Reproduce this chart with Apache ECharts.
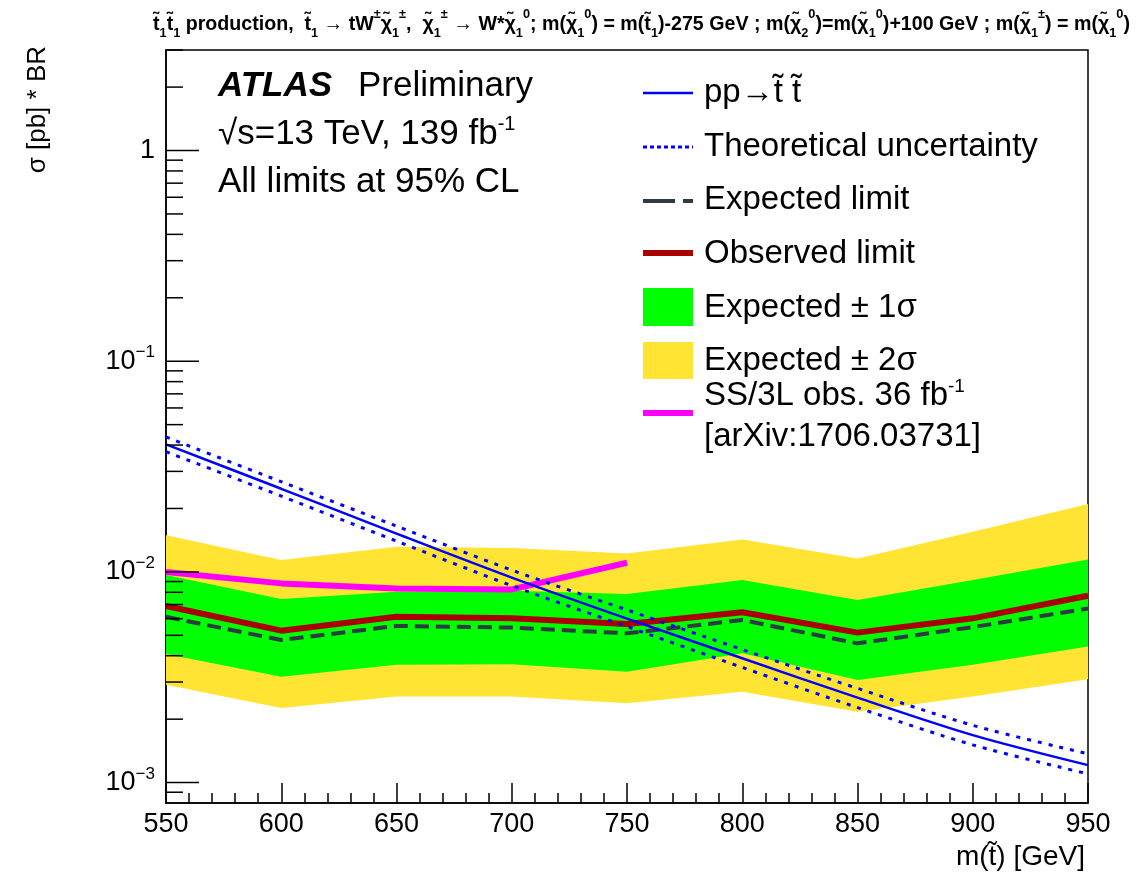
<!DOCTYPE html>
<html>
<head>
<meta charset="utf-8">
<script src="https://cdn.jsdelivr.net/npm/echarts@6/dist/echarts.min.js"></script>
<style>
  html, body { margin: 0; padding: 0; background: #ffffff; }
  #chart { width: 1148px; height: 872px; }
</style>
</head>
<body>
<div id="chart"></div>
<script>
// Stop mass points (GeV)
const masses = [550, 600, 650, 700, 750, 800, 850, 900, 950];

// Signal cross-section x BR (pb) and its theory uncertainty envelope
const theory     = [0.0403, 0.0248, 0.0152, 0.0094, 0.0060, 0.00389, 0.00253, 0.00168, 0.00121];
const theoryUp   = [0.0437, 0.0268, 0.0165, 0.0102, 0.0066, 0.00428, 0.00280, 0.00187, 0.00137];
const theoryDown = [0.0372, 0.0229, 0.0140, 0.0086, 0.0055, 0.00352, 0.00227, 0.00151, 0.00110];

// Limits at 95% CL (pb)
const expected = [0.00612, 0.00475, 0.00554, 0.00544, 0.00511, 0.00591, 0.00458, 0.00547, 0.00670];
const observed = [0.00689, 0.00526, 0.00612, 0.00602, 0.00566, 0.00643, 0.00515, 0.00602, 0.00770];

// Expected +-1 sigma and +-2 sigma bands (pb)
const oneSigmaUp   = [0.00966, 0.00743, 0.00805, 0.00814, 0.00785, 0.00915, 0.00735, 0.00915, 0.01146];
const oneSigmaDown = [0.00408, 0.00318, 0.00362, 0.00364, 0.00336, 0.00411, 0.00307, 0.00362, 0.00442];
const twoSigmaUp   = [0.01494, 0.01138, 0.01315, 0.01300, 0.01224, 0.01426, 0.01159, 0.01550, 0.02100];
const twoSigmaDown = [0.00291, 0.00226, 0.00256, 0.00256, 0.00238, 0.00270, 0.00217, 0.00256, 0.00309];

// Previous SS/3L observed limit, 36 fb-1
const ssMasses = [550, 600, 650, 700, 750];
const ssObserved = [0.0100, 0.00882, 0.00835, 0.00826, 0.01105];

// Log-axis tick values
const yMajorTicks = [0.001, 0.01, 0.1, 1];
const yMinorTicks = [0.0009,
  0.002, 0.003, 0.004, 0.005, 0.006, 0.007, 0.008, 0.009,
  0.02, 0.03, 0.04, 0.05, 0.06, 0.07, 0.08, 0.09,
  0.2, 0.3, 0.4, 0.5, 0.6, 0.7, 0.8, 0.9,
  2, 3];

// Process title, split into normal (n), subscript (b) and superscript (p) pieces
const titleTokens = [
  ['n', 't\u0303'], ['b', '1'], ['n', 't\u0303'], ['b', '1'], ['n', ' production,  t\u0303'], ['b', '1'],
  ['n', ' \u2192 tW'], ['p', '\u00b1'], ['n', '\u03c7\u0303'], ['b', '1'], ['p', '\u00b1'],
  ['n', ',  \u03c7\u0303'], ['b', '1'], ['p', '\u00b1'], ['n', ' \u2192 W*\u03c7\u0303'], ['b', '1'], ['p', '0'],
  ['n', '; m(\u03c7\u0303'], ['b', '1'], ['p', '0'], ['n', ') = m(t\u0303'], ['b', '1'], ['n', ')-275 GeV ; m(\u03c7\u0303'],
  ['b', '2'], ['p', '0'], ['n', ')=m(\u03c7\u0303'], ['b', '1'], ['p', '0'], ['n', ')+100 GeV ; m(\u03c7\u0303'],
  ['b', '1'], ['p', '\u00b1'], ['n', ') = m(\u03c7\u0303'], ['b', '1'], ['p', '0'], ['n', ')']
];

const FONT = 'Liberation Sans, Arial, Helvetica, sans-serif';
const TITLE_MAIN = 20, TITLE_SMALL = 13;
const TITLE_LEFT = 153, TITLE_RIGHT = 1130;

function pairs(xs, ys) { return xs.map((x, i) => [x, ys[i]]); }

// horizontal squeeze so the bold title spans the full top line
function titleScale() {
  const ctx = document.createElement('canvas').getContext('2d');
  let w = 0;
  titleTokens.forEach(([k, t]) => {
    ctx.font = 'bold ' + (k === 'n' ? TITLE_MAIN : TITLE_SMALL) + 'px ' + FONT;
    w += ctx.measureText(t).width;
  });
  return (TITLE_RIGHT - TITLE_LEFT) / w;
}

function bandSeries(name, up, down, color, z) {
  return {
    type: 'custom', name: name, z: z, clip: true, silent: true,
    data: [[masses[0], up[0]]],
    renderItem: function (params, api) {
      const pts = [];
      for (let i = 0; i < masses.length; i++) pts.push(api.coord([masses[i], up[i]]));
      for (let i = masses.length - 1; i >= 0; i--) pts.push(api.coord([masses[i], down[i]]));
      return { type: 'polygon', shape: { points: pts }, style: { fill: color } };
    }
  };
}

function tickSeries(values, len) {
  return {
    type: 'custom', z: 20, clip: false, silent: true,
    data: values.map(v => [masses[0], v]),
    renderItem: function (params, api) {
      const p = api.coord([api.value(0), api.value(1)]);
      return {
        type: 'line',
        shape: { x1: p[0], y1: p[1], x2: p[0] + len, y2: p[1] },
        style: { stroke: '#000', lineWidth: 1.5 }
      };
    }
  };
}

function lineSeries(name, xs, ys, color, width, type, z, smooth) {
  return {
    type: 'line', name: name, z: z, data: pairs(xs, ys),
    symbol: 'none', silent: true, animation: false, smooth: smooth || false,
    lineStyle: { color: color, width: width, type: type, cap: 'butt' }
  };
}

const chart = echarts.init(document.getElementById('chart'), null, { renderer: 'canvas' });

const legendX0 = 643, legendX1 = 693, legendTextX = 704;
const textNormal = { fill: '#000', font: '33px ' + FONT, verticalAlign: 'middle' };
const supStyle33 = { fontSize: 19, fontFamily: FONT, verticalAlign: 'top', fill: '#000' };

const titleText = titleTokens.map(([k, t]) => '{' + k + '|' + t + '}').join('');

const option = {
  animation: false,
  backgroundColor: '#ffffff',
  grid: {
    left: 166, right: 60, top: 50, bottom: 69,
    show: true, borderColor: '#000', borderWidth: 1.5,
    containLabel: false, outerBoundsMode: 'none'
  },
  xAxis: {
    type: 'value', min: 550, max: 950, interval: 50,
    axisLine: { show: true, lineStyle: { color: '#000', width: 1.5 } },
    axisTick: { show: true, inside: true, length: 20, lineStyle: { color: '#000', width: 1.5 } },
    minorTick: { show: true, splitNumber: 5, length: 10, lineStyle: { color: '#000', width: 1.5 } },
    splitLine: { show: false },
    axisLabel: { color: '#000', fontFamily: FONT, fontSize: 27, margin: 8 }
  },
  yAxis: {
    type: 'log', logBase: 10, min: 0.0008, max: 3,
    axisLine: { show: true, lineStyle: { color: '#000', width: 1.5 } },
    axisTick: { show: false },
    splitLine: { show: false },
    axisLabel: {
      color: '#000', fontFamily: FONT, fontSize: 27, margin: 11,
      showMinLabel: true, showMaxLabel: true,
      formatter: function (v) {
        const e = Math.log10(v);
        const r = Math.round(e);
        if (Math.abs(e - r) > 1e-6) return '';
        if (r === 0) return '1';
        return '{b|10}{s|\u2212' + (-r) + '}';
      },
      rich: {
        b: { fontSize: 27, fontFamily: FONT, color: '#000', lineHeight: 34 },
        s: { fontSize: 17, fontFamily: FONT, color: '#000', verticalAlign: 'top' }
      }
    }
  },
  series: [
    bandSeries('Expected \u00b1 2\u03c3', twoSigmaUp, twoSigmaDown, '#ffe433', 1),
    bandSeries('Expected \u00b1 1\u03c3', oneSigmaUp, oneSigmaDown, '#00ff00', 2),
    lineSeries('Expected limit', masses, expected, '#2e3b42', 4, [14, 7], 3),
    lineSeries('Observed limit', masses, observed, '#aa0000', 6, 'solid', 4),
    lineSeries('SS/3L obs. 36 fb-1', ssMasses, ssObserved, '#ff00ff', 6, 'solid', 5),
    lineSeries('Theoretical uncertainty up', masses, theoryUp, '#0000ff', 3, [4, 7], 6, 0.3),
    lineSeries('Theoretical uncertainty down', masses, theoryDown, '#0000ff', 3, [4, 7], 6, 0.3),
    lineSeries('pp\u2192t\u0303t\u0303', masses, theory, '#0000ff', 2.5, 'solid', 7, 0.3),
    tickSeries(yMajorTicks, 33),
    tickSeries(yMinorTicks, 17)
  ],
  graphic: [
    // process title
    {
      type: 'text', x: TITLE_LEFT, y: 24, scaleX: titleScale(), scaleY: 1,
      style: {
        text: titleText,
        verticalAlign: 'middle',
        rich: {
          n: { font: 'bold ' + TITLE_MAIN + 'px ' + FONT, fontSize: TITLE_MAIN, fontWeight: 'bold', fontFamily: FONT, fill: '#000', lineHeight: 32 },
          b: { font: 'bold ' + TITLE_SMALL + 'px ' + FONT, fontSize: TITLE_SMALL, fontWeight: 'bold', fontFamily: FONT, fill: '#000', verticalAlign: 'bottom' },
          p: { font: 'bold ' + TITLE_SMALL + 'px ' + FONT, fontSize: TITLE_SMALL, fontWeight: 'bold', fontFamily: FONT, fill: '#000', verticalAlign: 'top' }
        }
      }
    },
    // axis titles
    {
      type: 'text', x: 38, y: 46, rotation: Math.PI / 2,
      style: { text: '\u03c3 [pb] * BR', font: '26px ' + FONT, fill: '#000', align: 'right', verticalAlign: 'middle' }
    },
    {
      type: 'text', x: 1085, y: 857,
      style: { text: 'm(t\u0303) [GeV]', font: '28px ' + FONT, fill: '#000', align: 'right', verticalAlign: 'middle' }
    },
    // experiment label
    {
      type: 'text', x: 218, y: 86,
      style: { text: 'ATLAS', font: 'italic bold 35px ' + FONT, fill: '#000', verticalAlign: 'middle' }
    },
    {
      type: 'text', x: 358, y: 86,
      style: { text: 'Preliminary', font: '35px ' + FONT, fill: '#000', verticalAlign: 'middle' }
    },
    {
      type: 'text', x: 218, y: 134,
      style: {
        text: '{n|\u221as=13 TeV, 139 fb}{p|-1}', verticalAlign: 'middle',
        rich: {
          n: { fontSize: 35, fontFamily: FONT, fill: '#000', lineHeight: 40 },
          p: { fontSize: 20, fontFamily: FONT, fill: '#000', verticalAlign: 'top' }
        }
      }
    },
    {
      type: 'text', x: 218, y: 182,
      style: { text: 'All limits at 95% CL', font: '35px ' + FONT, fill: '#000', verticalAlign: 'middle' }
    },
    // legend
    { type: 'line', shape: { x1: legendX0, y1: 93, x2: legendX1, y2: 93 }, style: { stroke: '#0000ff', lineWidth: 2.5 } },
    { type: 'text', x: legendTextX, y: 93, style: Object.assign({ text: 'pp\u2192t\u0303 t\u0303' }, textNormal) },
    { type: 'line', shape: { x1: legendX0, y1: 147, x2: legendX1, y2: 147 }, style: { stroke: '#0000ff', lineWidth: 3, lineDash: [4, 3] } },
    { type: 'text', x: legendTextX, y: 147, style: Object.assign({ text: 'Theoretical uncertainty' }, textNormal) },
    { type: 'line', shape: { x1: legendX0, y1: 201, x2: 675, y2: 201 }, style: { stroke: '#2e3b42', lineWidth: 4 } },
    { type: 'line', shape: { x1: 683, y1: 201, x2: legendX1, y2: 201 }, style: { stroke: '#2e3b42', lineWidth: 4 } },
    { type: 'text', x: legendTextX, y: 200, style: Object.assign({ text: 'Expected limit' }, textNormal) },
    { type: 'line', shape: { x1: legendX0, y1: 253, x2: legendX1, y2: 253 }, style: { stroke: '#aa0000', lineWidth: 6 } },
    { type: 'text', x: legendTextX, y: 254, style: Object.assign({ text: 'Observed limit' }, textNormal) },
    { type: 'rect', shape: { x: legendX0, y: 288, width: 50, height: 38 }, style: { fill: '#00ff00' } },
    { type: 'text', x: legendTextX, y: 308, style: Object.assign({ text: 'Expected \u00b1 1\u03c3' }, textNormal) },
    { type: 'rect', shape: { x: legendX0, y: 342, width: 50, height: 37 }, style: { fill: '#ffe433' } },
    { type: 'text', x: legendTextX, y: 361, style: Object.assign({ text: 'Expected \u00b1 2\u03c3' }, textNormal) },
    { type: 'line', shape: { x1: legendX0, y1: 413, x2: legendX1, y2: 413 }, style: { stroke: '#ff00ff', lineWidth: 6 } },
    {
      type: 'text', x: legendTextX, y: 396,
      style: {
        text: '{n|SS/3L obs. 36 fb}{p|-1}', verticalAlign: 'middle',
        rich: { n: { fontSize: 33, fontFamily: FONT, fill: '#000', lineHeight: 38 }, p: supStyle33 }
      }
    },
    { type: 'text', x: legendTextX, y: 437, style: Object.assign({ text: '[arXiv:1706.03731]' }, textNormal) }
  ]
};

chart.setOption(option);
</script>
</body>
</html>
